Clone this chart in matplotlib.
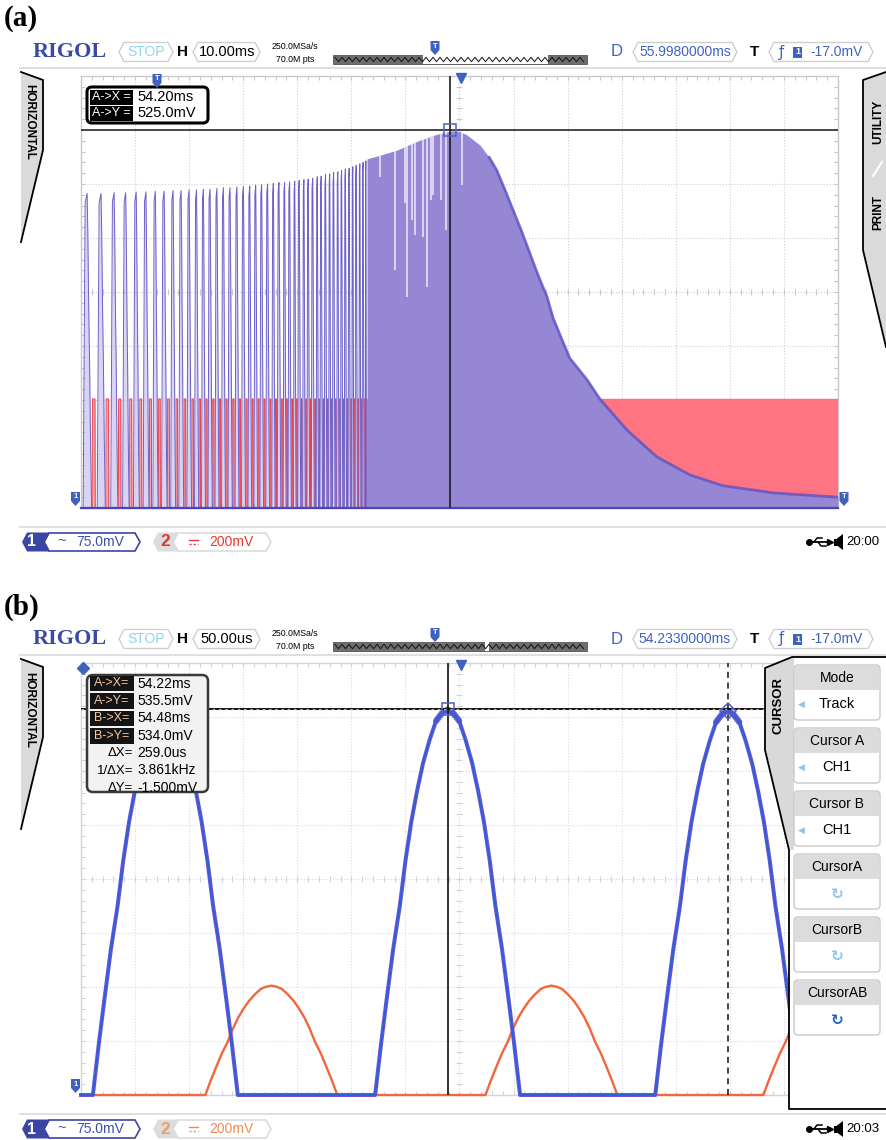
#!/usr/bin/env python3
import numpy as np
import matplotlib
matplotlib.use("Agg")
import matplotlib.pyplot as plt
from matplotlib.patches import Polygon, Rectangle, FancyBboxPatch

FIG_W, FIG_H = 886, 1140
UI_FONT = "Liberation Sans"
SERIF = "Liberation Serif"

# screen geometry in pixels, grid is 14 x 8 divisions
GRID_LEFT, GRID_RIGHT = 81, 838
GRID_H = 432

# ---------------- panel (a): H 10.00ms/div, CH1 75mV/div, CH2 200mV/div
A_TIME_MS = (-14.0, 126.0)
A_PULSE_MS = [-13.6, -11.0, -8.5, -6.3, -4.3, -2.5, -0.7, 0.9, 2.6, 4.1,
              5.6, 7.0, 8.3, 9.5, 10.8, 12.0, 13.2, 14.5, 15.7, 16.9,
              18.0, 19.1, 20.2, 21.3, 22.3, 23.4, 24.3, 25.3, 26.1, 27.0,
              27.8, 28.6, 29.5, 30.2, 31.0, 31.8, 32.5, 33.3, 34.0, 34.7,
              35.4, 36.1, 36.7, 37.4, 38.0, 38.6]
A_PULSE_TOP_MV = [437, 437, 438, 438, 439, 439, 440, 440, 441, 441,
                  442, 442, 443, 443, 444, 445, 445, 446, 447, 447,
                  448, 449, 450, 451, 452, 452, 453, 454, 455, 456,
                  457, 458, 460, 461, 463, 464, 466, 467, 469, 471,
                  472, 474, 476, 478, 480, 482]
# one traced CH1 pulse (fraction of its period, fraction of its top)
A_PULSE_FRAC = [0.00, 0.14, 0.28, 0.33, 0.40, 0.46, 0.52, 0.60]
A_PULSE_LEVEL = [0.00, 0.97, 1.00, 0.88, 0.62, 0.45, 0.22, 0.00]
# CH2 gate pulse inside the same period
A_RED_FRAC = [0.64, 0.66, 0.84, 0.86]
A_RED_LEVEL = [0.0, 1.0, 1.0, 0.0]
A_RED_MV = 404
# CH1 envelope once the burst is continuous
A_ENV_MS = [38.9, 41.3, 44.4, 48.7, 51.8, 54.6, 56.0, 57.4, 59.8, 61.5, 62.9,
            64.4, 65.9, 67.4, 69.0, 70.5, 72.2, 73.3, 75.0, 76.4, 79.6, 82.0,
            87.0, 92.5, 98.6, 104.7, 114.0, 126.0]
A_ENV_MV = [485, 490, 497, 511, 519, 524, 523, 518, 504, 487, 469,
            442, 414, 386, 354, 324, 293, 264, 233, 208, 178, 151,
            108, 71, 46, 31, 21, 15]
# unfilled sweeps inside the burst (time, lowest level reached)
A_GAP_MS = [41.3, 44.1, 45.9, 46.3, 47.2, 47.8, 49.3, 50.0, 50.7, 51.1, 52.6, 53.5, 56.5]
A_GAP_MV = [460, 331, 424, 293, 400, 379, 376, 307, 428, 435, 428, 386, 449]
A_CURSOR = (54.20, 525.0)

# ---------------- panel (b): H 50.00us/div around D = 54.233ms
B_TIME_US = (-350.0, 350.0)
B_BLUE_PEAK_US = [-272, -11, 248]
B_BLUE_PEAK_MV = [535.0, 535.5, 534.0]
B_BLUE_HALF_US = 67
B_RED_PEAK_US = [-174, 85, 342]
B_RED_PEAK_MV = [405, 405, 405]
B_RED_HALF_US = 61
# traced shape of one half wave (fraction of its base, fraction of its peak)
BUMP_FRAC = [0.0, 0.04, 0.08, 0.125, 0.17, 0.21, 0.25, 0.29, 0.33, 0.375, 0.42, 0.46, 0.5,
             0.54, 0.58, 0.625, 0.67, 0.71, 0.75, 0.79, 0.83, 0.875, 0.92, 0.96, 1.0]
BUMP_LEVEL = [0.0, 0.13, 0.25, 0.38, 0.49, 0.61, 0.71, 0.79, 0.86, 0.92, 0.97, 0.99, 1.0,
              0.99, 0.97, 0.92, 0.86, 0.79, 0.71, 0.61, 0.49, 0.38, 0.25, 0.13, 0.0]
B_CURSOR_A = (-11, 535.5)
B_CURSOR_B = (248, 534.0)

B_READOUT = [("A->X=", "54.22ms", True), ("A->Y=", "535.5mV", True),
             ("B->X=", "54.48ms", True), ("B->Y=", "534.0mV", True),
             ("ΔX=", "259.0us", False), ("1/ΔX=", "3.861kHz", False),
             ("ΔY=", "-1.500mV", False)]
B_MENU = [("Mode", "Track"), ("Cursor A", "CH1"), ("Cursor B", "CH1"),
          ("CursorA", None), ("CursorB", None), ("CursorAB", None)]

UI_BLUE = "#3f61c2"


def txt(ax, x, y, s, size, color="black", weight="normal", ha="center",
        family=UI_FONT, rotation=0, zorder=8):
    ax.text(x, y, s, fontsize=size, color=color, fontweight=weight, ha=ha,
            va="center", family=family, rotation=rotation, zorder=zorder)


def chevron(ax, x0, x1, yc, h=19, ec="#cfcfcf", fc="white", lw=1.0, n=5, zorder=6):
    pts = [(x0, yc), (x0 + n, yc - h / 2), (x1 - n, yc - h / 2), (x1, yc),
           (x1 - n, yc + h / 2), (x0 + n, yc + h / 2)]
    ax.add_patch(Polygon(pts, closed=True, fc=fc, ec=ec, lw=lw, zorder=zorder))


def pin(ax, x, y, label, color=UI_BLUE):
    pts = [(x - 4.5, y - 7), (x + 4.5, y - 7), (x + 4.5, y + 2), (x, y + 7), (x - 4.5, y + 2)]
    ax.add_patch(Polygon(pts, closed=True, fc=color, ec="none", zorder=9))
    txt(ax, x, y - 2, label, 5.5, "white", "bold", zorder=10)


def draw_grid(ax, top, color, border):
    bottom = top + GRID_H
    dx = (GRID_RIGHT - GRID_LEFT) / 14
    dy = GRID_H / 8
    dots = (0, (1, 1.6))
    ax.vlines([GRID_LEFT + i * dx for i in range(1, 14)], top, bottom,
              color=color, lw=0.8, linestyles=[dots])
    ax.hlines([top + j * dy for j in range(1, 8)], GRID_LEFT, GRID_RIGHT,
              color=color, lw=0.8, linestyles=[dots])
    ax.plot([GRID_LEFT, GRID_RIGHT, GRID_RIGHT, GRID_LEFT, GRID_LEFT],
            [top, top, bottom, bottom, top], color=border, lw=1)
    xc = GRID_LEFT + 7 * dx
    yc = top + 4 * dy
    xt = [GRID_LEFT + k * dx / 5 for k in range(1, 70)]
    yt = [top + k * dy / 5 for k in range(1, 40)]
    ax.vlines(xt, top, top + 4, color=border, lw=0.8)
    ax.vlines(xt, bottom - 4, bottom, color=border, lw=0.8)
    ax.vlines(xt, yc - 3, yc + 3, color=border, lw=0.8)
    ax.hlines(yt, GRID_LEFT, GRID_LEFT + 4, color=border, lw=0.8)
    ax.hlines(yt, GRID_RIGHT - 4, GRID_RIGHT, color=border, lw=0.8)
    ax.hlines(yt, xc - 3, xc + 3, color=border, lw=0.8)


def draw_header(ax, oy, hscale, delay, window):
    y = 52 + oy
    txt(ax, 33, y, "RIGOL", 16, "#3a4aa6", "bold", "left", SERIF)
    chevron(ax, 119, 173, y)
    txt(ax, 146, y, "STOP", 10, "#8fd4ee")
    txt(ax, 183, y, "H", 11, weight="bold")
    chevron(ax, 193, 260, y)
    txt(ax, 227, y, hscale, 10.5)
    txt(ax, 295, y - 5.5, "250.0MSa/s", 6.3)
    txt(ax, 295, y + 7.5, "70.0M pts", 6.3)
    ax.add_patch(Rectangle((333, y + 3), 254, 9, fc="#6e6e6e", ec="#555555", lw=0.6, zorder=5))
    ax.add_patch(Rectangle((window[0], y + 3), window[1] - window[0], 9, fc="white",
                           ec="none", zorder=5))
    zx = np.arange(335, 586, 3.5)
    zy = y + 7.5 + np.where(np.arange(len(zx)) % 2 == 0, -2.2, 2.2)
    ax.plot(zx, zy, color="#111111", lw=0.7, zorder=6)
    pin(ax, 435, y - 4, "T")
    txt(ax, 617, y, "D", 12, UI_BLUE)
    chevron(ax, 633, 737, y)
    txt(ax, 685, y, delay, 10, UI_BLUE)
    txt(ax, 755, y, "T", 11, weight="bold")
    chevron(ax, 769, 873, y)
    txt(ax, 781, y, "ƒ", 10.5, UI_BLUE, family="DejaVu Sans")
    ax.add_patch(Rectangle((793, y - 5.5), 9, 11, fc=UI_BLUE, ec="none", zorder=7))
    txt(ax, 797.5, y, "1", 6.5, "white", "bold")
    txt(ax, 837, y, "-17.0mV", 10, UI_BLUE)
    ax.plot([20, 886], [68 + oy, 68 + oy], color="#d9d9d9", lw=1.2)


def draw_footer(ax, oy, clock, ch2_color, ch2_num):
    y = 542 + oy
    ax.plot([20, 886], [527 + oy, 527 + oy], color="#d9d9d9", lw=1.2)
    chevron(ax, 44, 140, y, h=18, ec="#3b45a5", lw=1.2)
    ax.add_patch(Polygon([(22, y), (27, y - 9.5), (50, y - 9.5), (45, y), (50, y + 9.5),
                          (27, y + 9.5)], closed=True, fc="#3b45a5", ec="none", zorder=7))
    txt(ax, 32, y, "1", 11.5, "white", "bold")
    txt(ax, 62, y - 1, "~", 10.5, "#3b4fb0")
    txt(ax, 100, y, "75.0mV", 10, "#3b4fb0")
    chevron(ax, 173, 271, y, h=18, ec="#d4d4d4")
    ax.add_patch(Polygon([(153, y), (158, y - 9.5), (179, y - 9.5), (174, y), (179, y + 9.5),
                          (158, y + 9.5)], closed=True, fc="#dcdcdc", ec="none", zorder=7))
    txt(ax, 165, y, "2", 12.5, ch2_num, "bold")
    ax.plot([189, 198], [y - 2, y - 2], color=ch2_color, lw=1.0, zorder=8)
    ax.plot([189, 198], [y + 2, y + 2], color=ch2_color, lw=1.0, ls=(0, (1.5, 1.5)), zorder=8)
    txt(ax, 231, y, "200mV", 10, ch2_color)
    # usb + speaker icons
    ax.plot([810, 829], [y, y], color="black", lw=1.3)
    ax.plot(809, y, marker="o", color="black", ms=4)
    ax.plot([814, 817, 822], [y, y - 4, y - 4], color="black", lw=1.1)
    ax.plot([818, 821, 826], [y, y + 4, y + 4], color="black", lw=1.1)
    ax.plot(830, y, marker=">", color="black", ms=4)
    ax.add_patch(Rectangle((834, y - 3.5), 3, 7, fc="black", ec="none"))
    ax.add_patch(Polygon([(837, y - 3.5), (843, y - 8), (843, y + 8), (837, y + 3.5)],
                         closed=True, fc="black", ec="none"))
    txt(ax, 879, y, clock, 9.5, ha="right")


def side_tab(ax, pts):
    ax.add_patch(Polygon(pts, closed=True, fc="#dadada", ec="none", zorder=6))
    xs, ys = zip(*pts)
    ax.plot(xs, ys, color="black", lw=1.3, zorder=7)


def data_axes(fig, top_px, xlim, ylim, z):
    rect = [GRID_LEFT / FIG_W, (FIG_H - top_px - GRID_H) / FIG_H,
            (GRID_RIGHT - GRID_LEFT) / FIG_W, GRID_H / FIG_H]
    ax = fig.add_axes(rect)
    ax.set_xlim(*xlim)
    ax.set_ylim(*ylim)
    ax.set_axis_off()
    ax.patch.set_visible(False)
    ax.set_zorder(z)
    return ax


def plot_panel_a(fig, top):
    ax_red = data_axes(fig, top, A_TIME_MS, (0, 1600), 1)
    ax = data_axes(fig, top, A_TIME_MS, (0, 600), 2)

    starts = A_PULSE_MS + [A_ENV_MS[0]]
    bx, by, rx, ry = [A_TIME_MS[0]], [0], [A_TIME_MS[0]], [0]
    for i, t0 in enumerate(A_PULSE_MS):
        period = starts[i + 1] - t0
        for f, lv in zip(A_PULSE_FRAC, A_PULSE_LEVEL):
            bx.append(t0 + f * period)
            by.append(lv * A_PULSE_TOP_MV[i])
        for f, lv in zip(A_RED_FRAC, A_RED_LEVEL):
            rx.append(t0 + f * period)
            ry.append(lv * A_RED_MV)
    rx.append(A_TIME_MS[1])
    ry.append(0)

    ax_red.fill_between([A_ENV_MS[0], A_TIME_MS[1]], 0, A_RED_MV, color="#ff7483", lw=0)
    ax_red.fill_between(rx, 0, ry, color="#f7a7ab", lw=0)
    ax_red.plot(rx, ry, color="#e8414a", lw=0.7)
    ax_red.plot([A_ENV_MS[0], A_TIME_MS[1]], [A_RED_MV, A_RED_MV], color="#ff6f7e", lw=1.0)

    ax.fill_between(bx, 0, by, color="#cdc6ee", alpha=0.75, lw=0)
    ax.plot(bx, by, color="#6d60c8", lw=0.7)
    poly = ax.fill_between(A_ENV_MS, 0, A_ENV_MV, color="#9687d4", lw=0)
    ax.plot(A_ENV_MS[9:], A_ENV_MV[9:], color="#5c53c2", lw=2.0, alpha=0.8)
    gaps = ax.vlines(A_GAP_MS, A_GAP_MV, 600, color="#eeeaf9", lw=1.1)
    gaps.set_clip_path(poly.get_paths()[0], ax.transData)
    ax.plot(A_TIME_MS, [0, 0], color="#4a47b4", lw=1.6, clip_on=False)

    ax.axhline(A_CURSOR[1], color="#3a3a3a", lw=1.3, zorder=5)
    ax.axvline(A_CURSOR[0], color="#1e1e1e", lw=1.2, zorder=5)
    ax.plot(*A_CURSOR, marker="s", ms=9, mfc="none", mec="#4a62c0", mew=1.1, zorder=6)


def bump_trace(peaks, heights, half, xlim):
    xs, ys = [xlim[0]], [0.0]
    top_x, top_y = [], []
    for p, h in zip(peaks, heights):
        seg_x = [p - half + 2 * half * f for f in BUMP_FRAC]
        seg_y = [h * lv for lv in BUMP_LEVEL]
        xs += seg_x
        ys += seg_y
        top_x.append([x for x, lv in zip(seg_x, BUMP_LEVEL) if lv >= 0.95])
        top_y.append([y for y, lv in zip(seg_y, BUMP_LEVEL) if lv >= 0.95])
    if xs[-1] < xlim[1]:
        xs.append(xlim[1])
        ys.append(0.0)
    return xs, ys, top_x, top_y


def plot_panel_b(fig, top):
    ax_red = data_axes(fig, top, B_TIME_US, (0, 1600), 1)
    ax = data_axes(fig, top, B_TIME_US, (0, 600), 2)

    rx, ry, _, _ = bump_trace(B_RED_PEAK_US, B_RED_PEAK_MV, B_RED_HALF_US, B_TIME_US)
    ax_red.plot(rx, ry, color="#f2653f", lw=1.7, clip_on=False)

    bx, by, tx, ty = bump_trace(B_BLUE_PEAK_US, B_BLUE_PEAK_MV, B_BLUE_HALF_US, B_TIME_US)
    ax.plot(bx, by, color="#7a52d8", lw=2.9, clip_on=False)
    ax.plot(bx, by, color="#2e62d4", lw=1.7, clip_on=False)
    for xs, ys in zip(tx, ty):
        ax.plot(xs, ys, color="#4a55d0", lw=4.5, alpha=0.85, solid_capstyle="round")

    ax.axhline(B_CURSOR_A[1], color="#111111", lw=1.4, zorder=5)
    ax.axhline(B_CURSOR_A[1], color="#f39a5a", lw=0.9, ls=(0, (2, 3)), zorder=5)
    ax.axvline(B_CURSOR_A[0], color="#111111", lw=1.2, zorder=5)
    ax.axvline(B_CURSOR_B[0], color="#111111", lw=1.1, ls=(0, (4, 3)), zorder=5)
    ax.plot(*B_CURSOR_A, marker="s", ms=9, mfc="none", mec="#4a62c0", mew=1.1, zorder=6)
    ax.plot(*B_CURSOR_B, marker="D", ms=8, mfc="none", mec="#4a62c0", mew=1.1, zorder=6)


def draw_readout_a(ax):
    ax.add_patch(FancyBboxPatch((87, 87), 121, 36, boxstyle="round,pad=0,rounding_size=5",
                                fc="white", ec="black", lw=2.2, zorder=7))
    for y, lab, val in [(97, "A->X =", "54.20ms"), (113, "A->Y =", "525.0mV")]:
        ax.add_patch(Rectangle((90, y - 7.5), 43, 15, fc="black", ec="none", zorder=8))
        txt(ax, 111.5, y, lab, 9, "white", zorder=9)
        txt(ax, 137, y, val, 10.5, ha="left", zorder=9)


def draw_readout_b(ax):
    ax.add_patch(FancyBboxPatch((87, 675), 121, 117, boxstyle="round,pad=0,rounding_size=6",
                                fc="#f2f2f2", ec="#3a3a3a", lw=1.8, zorder=7))
    for k, (lab, val, dark) in enumerate(B_READOUT):
        y = 683.5 + k * 17.4
        if dark:
            ax.add_patch(Rectangle((90, y - 7.8), 44, 15.6, fc="#141414", ec="none", zorder=8))
            txt(ax, 112, y, lab, 9, "#f4c9a3", zorder=9)
        else:
            txt(ax, 133, y, lab, 9.5, ha="right", zorder=9)
        txt(ax, 137, y, val, 10, ha="left", zorder=9)


def draw_cursor_menu(ax):
    ax.add_patch(Polygon([(792, 657), (886, 657), (886, 1109), (789, 1109), (789, 850),
                          (765, 750), (765, 668)], closed=True, fc="white", ec="none", zorder=5))
    ax.add_patch(Polygon([(765, 668), (792, 657), (794, 657), (794, 850), (789, 850),
                          (765, 750)], closed=True, fc="#d9d9d9", ec="none", zorder=6))
    ax.plot([886, 792, 765, 765, 789, 789, 886], [657, 657, 668, 750, 850, 1109, 1109],
            color="black", lw=1.3, zorder=7)
    txt(ax, 779, 706, "CURSOR", 9.5, weight="bold", rotation=90)
    for k, (head, val) in enumerate(B_MENU):
        top = 665 + k * 63
        ax.add_patch(FancyBboxPatch((794, top), 86, 55, boxstyle="round,pad=0,rounding_size=4",
                                    fc="white", ec="#c9c9c9", lw=1.0, zorder=7))
        ax.add_patch(Rectangle((795, top + 1), 84, 24, fc="#dcdcdc", ec="none", zorder=7))
        txt(ax, 837, top + 13, head, 10)
        if val is not None:
            txt(ax, 801, top + 39, "◀", 6.5, "#8cc4ea", family="DejaVu Sans")
            txt(ax, 837, top + 39, val, 10.5)
        else:
            col = "#2a64c4" if head == "CursorAB" else "#8fc6ec"
            txt(ax, 837, top + 40, "↻", 11, col, "bold", family="DejaVu Sans")


def main():
    fig = plt.figure(figsize=(FIG_W / 100, FIG_H / 100), dpi=100)
    bg = fig.add_axes([0, 0, 1, 1])
    fg = fig.add_axes([0, 0, 1, 1])
    for ax, z in [(bg, 0), (fg, 3)]:
        ax.set_xlim(0, FIG_W)
        ax.set_ylim(FIG_H, 0)
        ax.set_axis_off()
        ax.set_zorder(z)
    fg.patch.set_visible(False)

    # panel (a)
    txt(fg, 4, 18, "(a)", 21, weight="bold", ha="left", family=SERIF)
    draw_header(fg, 0, "10.00ms", "55.9980000ms", (423, 548))
    draw_grid(bg, 76, "#cfcfcf", "#c8c8c8")
    plot_panel_a(fig, 76)
    draw_readout_a(fg)
    side_tab(fg, [(21, 72), (43, 80), (43, 150), (21, 242)])
    txt(fg, 29, 122, "HORIZONTAL", 8.5, weight="bold", rotation=-90)
    side_tab(fg, [(886, 72), (863, 80), (863, 250), (886, 347)])
    txt(fg, 878, 122, "UTILITY", 8.5, weight="bold", rotation=90)
    txt(fg, 878, 213, "PRINT", 8.5, weight="bold", rotation=90)
    fg.plot([873, 882], [176, 162], color="white", lw=1.5, zorder=8)
    pin(fg, 157, 81, "T")
    fg.plot(461, 78, marker="v", color=UI_BLUE, ms=7, zorder=9)
    pin(fg, 75.5, 499, "1")
    pin(fg, 844, 499, "T")
    draw_footer(fg, 0, "20:00", "#e8372c", "#e8372c")

    # panel (b)
    txt(fg, 4, 607, "(b)", 21, weight="bold", ha="left", family=SERIF)
    draw_header(fg, 587, "50.00us", "54.2330000ms", (485, 489))
    draw_grid(bg, 663, "#d3dbe7", "#cdd4df")
    plot_panel_b(fig, 663)
    draw_readout_b(fg)
    side_tab(fg, [(21, 659), (43, 667), (43, 737), (21, 829)])
    txt(fg, 29, 710, "HORIZONTAL", 8.5, weight="bold", rotation=-90)
    draw_cursor_menu(fg)
    fg.plot(83, 668, marker="D", color=UI_BLUE, ms=6, zorder=6)
    fg.plot(461, 665, marker="v", color=UI_BLUE, ms=7, zorder=9)
    pin(fg, 75.5, 1086, "1")
    draw_footer(fg, 587, "20:03", "#f28a52", "#f0a060")

    fig.savefig("out.png", dpi=100)
    plt.close(fig)


if __name__ == "__main__":
    main()
